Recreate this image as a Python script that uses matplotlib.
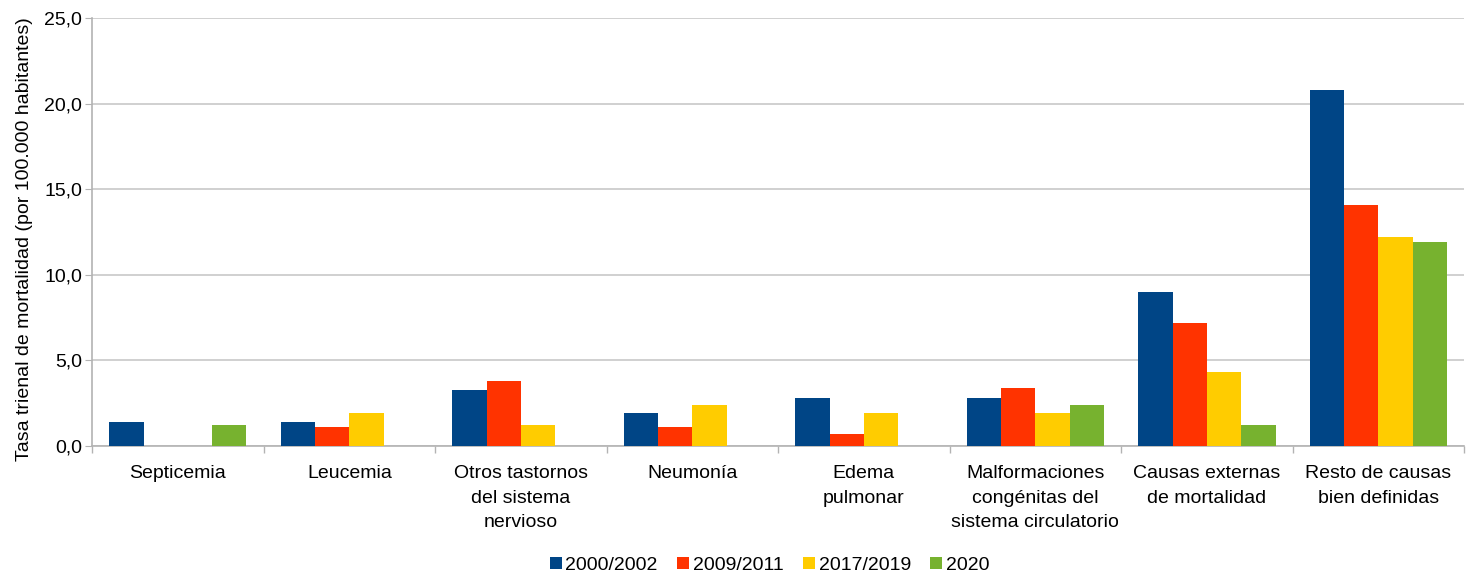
import numpy as np
import matplotlib
matplotlib.use("Agg")
import matplotlib.pyplot as plt
from matplotlib.ticker import FuncFormatter, FixedLocator, NullFormatter

categories = ["Septicemia", "Leucemia", "Otros tastornos\ndel sistema\nnervioso", "Neumonía",
              "Edema\npulmonar", "Malformaciones\ncongénitas del\nsistema circulatorio",
              "Causas externas\nde mortalidad", "Resto de causas\nbien definidas"]
series_names = ["2000/2002", "2009/2011", "2017/2019", "2020"]
v_2000_2002 = [1.4, 1.4, 3.3, 1.9, 2.8, 2.8, 9.0, 20.8]
v_2009_2011 = [np.nan, 1.1, 3.8, 1.1, 0.7, 3.4, 7.2, 14.1]
v_2017_2019 = [np.nan, 1.9, 1.2, 2.4, 1.9, 1.9, 4.3, 12.2]
v_2020 = [1.2, np.nan, np.nan, np.nan, np.nan, 2.4, 1.2, 11.9]
colors = ["#004586", "#ff3300", "#ffcc00", "#77b22f"]

plt.rcParams['font.family'] = ['Liberation Sans', 'DejaVu Sans']
FS = 14

fig = plt.figure(figsize=(14.66, 5.75), dpi=100)
ax = fig.add_axes([0.0628, 0.2243, 0.936, 0.7444])

x = np.arange(len(categories))
w = 0.2
all_series = [v_2000_2002, v_2009_2011, v_2017_2019, v_2020]
for i, (vals, name, c) in enumerate(zip(all_series, series_names, colors)):
    ax.bar(x + (i - 1.5) * w, np.array(vals, dtype=float), width=w, color=c,
           label=name, zorder=3, linewidth=0)

ax.set_xlim(-0.5, len(categories) - 0.5)
ax.set_ylim(0, 25)
ax.set_yticks(np.arange(0, 25.1, 5))
ax.yaxis.set_major_formatter(FuncFormatter(lambda v, p: f"{v:.1f}".replace(".", ",")))
ax.grid(axis='y', color='#c8c8c8', linewidth=1.2, zorder=0)
ax.set_axisbelow(True)

ax.xaxis.set_major_locator(FixedLocator(np.arange(-0.5, len(categories), 1.0)))
ax.xaxis.set_major_formatter(NullFormatter())
ax.xaxis.set_minor_locator(FixedLocator(x))
ax.set_xticklabels(categories, minor=True, fontsize=FS, linespacing=1.55)
ax.tick_params(axis='x', which='minor', length=0, pad=14)
ax.tick_params(axis='x', which='major', length=5, color='#b3b3b3', width=1)
ax.tick_params(axis='y', length=5, color='#b3b3b3', labelsize=FS, pad=2)

for s in ['top', 'right']:
    ax.spines[s].set_visible(False)
for s in ['left', 'bottom']:
    ax.spines[s].set_color('#b3b3b3')
    ax.spines[s].set_linewidth(1.2)

ax.set_ylabel("Tasa trienal de mortalidad (por 100.000 habitantes)", fontsize=FS)
ax.yaxis.set_label_coords(-0.043, 0.484)

leg = fig.legend(loc='lower center', bbox_to_anchor=(0.525, -0.028), ncol=4, frameon=False,
                 fontsize=FS, handlelength=0.6, handleheight=0.6, handletextpad=0.2,
                 columnspacing=1.0)

fig.savefig("out.png", dpi=100)
